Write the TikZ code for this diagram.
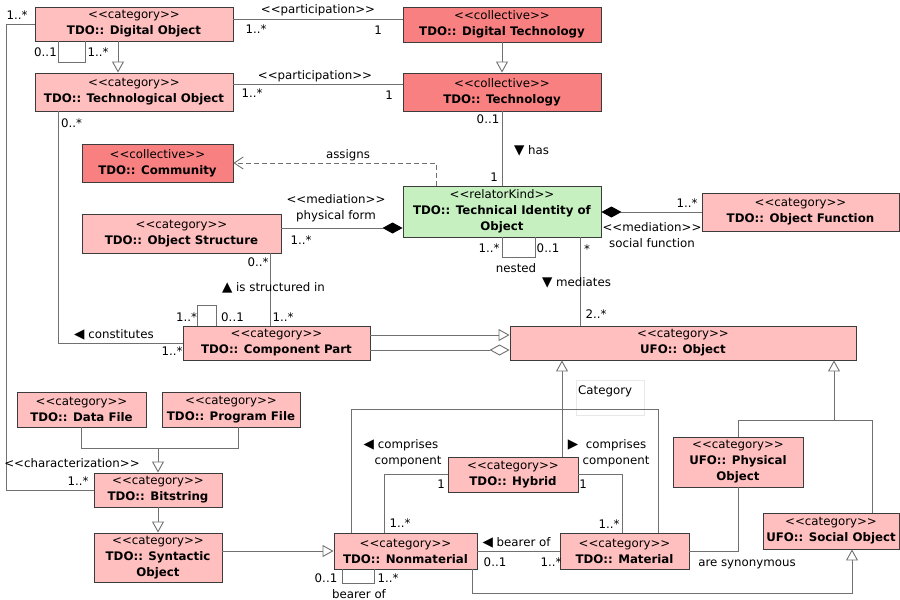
\documentclass[tikz,border=0pt]{standalone}
\usepackage{fontspec}
\newfontfamily\umlfont{DejaVu Sans}
\usetikzlibrary{arrows.meta}
\definecolor{catfill}{RGB}{255,191,191}
\definecolor{colfill}{RGB}{248,128,128}
\definecolor{relfill}{RGB}{198,240,192}
\definecolor{boxline}{RGB}{60,60,60}
\definecolor{wirec}{RGB}{112,112,112}
\definecolor{setline}{RGB}{232,232,232}
\newcommand{\stereo}[1]{<<#1>>}
% reading-direction marks of association names
\newcommand{\rd}[1]{{\fontsize{13.5}{16}\selectfont #1}}
\begin{document}
\begin{tikzpicture}[x=1pt,y=-1pt,
  font=\umlfont\fontsize{11.8}{16}\selectfont,
  box/.style={draw=boxline, line width=0.9pt, inner sep=0pt, align=center},
  cat/.style={box, fill=catfill},
  col/.style={box, fill=colfill},
  rel/.style={box, fill=relfill},
  wire/.style={draw=wirec, line width=0.9pt},
  gen/.style={wire, -{Triangle[length=11pt,width=12pt,fill=white]}},
  comp/.style={wire, {Diamond[length=20pt,width=11pt,color=black]}-},
  agg/.style={wire, -{Diamond[length=20pt,width=11pt,fill=white]}},
  dep/.style={wire, dash pattern=on 5pt off 3pt, -{Straight Barb[length=9pt,width=12pt]}},
  lbl/.style={inner sep=0pt, align=center},
]
\useasboundingbox (0,0) rectangle (900,600);

% generalization set box
\node[draw=setline, line width=0.8pt, minimum width=68pt, minimum height=35pt, inner sep=0pt] (gset) at (610,397.5) {};
\node[lbl, anchor=west] (gsettxt) at (578,391) {Category};

% classes
\node[cat, minimum width=198pt, minimum height=34pt] (dobj) at (134,24) {\stereo{category}\\\textbf{TDO:: Digital Object}};
\node[col, minimum width=198pt, minimum height=35pt] (dtech) at (502,24.5) {\stereo{collective}\\\textbf{TDO:: Digital Technology}};
\node[cat, minimum width=198pt, minimum height=38pt] (tobj) at (134,92) {\stereo{category}\\\textbf{TDO:: Technological Object}};
\node[col, minimum width=198pt, minimum height=38pt] (tech) at (502,92) {\stereo{collective}\\\textbf{TDO:: Technology}};
\node[col, minimum width=151pt, minimum height=38pt] (comm) at (157.5,163) {\stereo{collective}\\\textbf{TDO:: Community}};
\node[rel, minimum width=198pt, minimum height=51pt] (ti) at (502,211.5) {\stereo{relatorKind}\\\textbf{TDO:: Technical Identity of}\\\textbf{Object}};
\node[cat, minimum width=197pt, minimum height=38pt] (ofun) at (800.5,212) {\stereo{category}\\\textbf{TDO:: Object Function}};
\node[cat, minimum width=199pt, minimum height=39pt] (ostr) at (181.5,233.5) {\stereo{category}\\\textbf{TDO:: Object Structure}};
\node[cat, minimum width=187pt, minimum height=34pt] (cpart) at (276.5,343) {\stereo{category}\\\textbf{TDO:: Component Part}};
\node[cat, minimum width=346pt, minimum height=34pt] (ufo) at (683,343) {\stereo{category}\\\textbf{UFO:: Object}};
\node[cat, minimum width=129pt, minimum height=35pt] (dfile) at (81.5,409.5) {\stereo{category}\\\textbf{TDO:: Data File}};
\node[cat, minimum width=138pt, minimum height=35pt] (pfile) at (231,409.5) {\stereo{category}\\\textbf{TDO:: Program File}};
\node[cat, minimum width=128pt, minimum height=34pt] (bits) at (158,490) {\stereo{category}\\\textbf{TDO:: Bitstring}};
\node[cat, minimum width=128pt, minimum height=49pt] (synt) at (158,557.5) {\stereo{category}\\\textbf{TDO:: Syntactic}\\\textbf{Object}};
\node[cat, minimum width=143pt, minimum height=36pt] (nonm) at (405.5,551) {\stereo{category}\\\textbf{TDO:: Nonmaterial}};
\node[cat, minimum width=130pt, minimum height=35pt] (hyb) at (513,474.5) {\stereo{category}\\\textbf{TDO:: Hybrid}};
\node[cat, minimum width=129pt, minimum height=36pt] (mat) at (624.5,551) {\stereo{category}\\\textbf{TDO:: Material}};
\node[cat, minimum width=130pt, minimum height=50pt] (phys) at (738,462) {\stereo{category}\\\textbf{UFO:: Physical}\\\textbf{Object}};
\node[cat, minimum width=136pt, minimum height=36pt] (soc) at (831,531) {\stereo{category}\\\textbf{UFO:: Social Object}};

% participation associations
\draw[wire] ([yshift=5pt]dobj.east) -- ([yshift=5pt]dobj.east -| dtech.west);
\node[lbl] (p1n) at (318,10) {\stereo{participation}};
\node[lbl] (p1a) at (256,29) {1..*};
\node[lbl] (p1b) at (378,30) {1};
\draw[wire] ([yshift=8pt]tobj.east) -- ([yshift=8pt]tobj.east -| tech.west);
\node[lbl] (p2n) at (315,76) {\stereo{participation}};
\node[lbl] (p2a) at (252,93) {1..*};
\node[lbl] (p2b) at (389,95) {1};

% generalizations at the top
\draw[gen] ([xshift=-16pt]dobj.south) -- ([xshift=-16pt]dobj.south |- tobj.north);
\draw[gen] (dtech.south) -- (tech.north);

% digital object self association
\draw[wire] ([xshift=-76pt]dobj.south) -- ++(0,21) -| ([xshift=-49pt]dobj.south);
\node[lbl] (d1a) at (45.5,52) {0..1};
\node[lbl] (d1b) at (98,52) {1..*};

% characterization
\draw[wire] (dobj.west) -- ++(-28,0) |- (bits.west);
\node[lbl] (c1a) at (17,15) {1..*};
\node[lbl] (c1n) at (72,463) {\stereo{characterization}};
\node[lbl] (c1b) at (78,481) {1..*};

% constitutes
\draw[wire] ([xshift=-76pt]tobj.south) |- (cpart.west);
\node[lbl] (k1a) at (71.5,123) {0..*};
\node[lbl] (k1n) at (114,335) {\rd{◀} constitutes};
\node[lbl] (k1b) at (172,351) {1..*};

% has
\draw[wire] (tech.south) -- (ti.north);
\node[lbl] (h1a) at (488,119) {0..1};
\node[lbl] (h1b) at (494,177) {1};
\node[lbl] (h1n) at (531.5,151) {\rd{▼} has};

% assigns
\draw[dep] ([xshift=-66pt]ti.north) |- (comm.east);
\node[lbl] (asg) at (348,155) {assigns};

% physical form
\draw[comp] ([yshift=-16.5pt]ti.west) -- ([yshift=-16.5pt]ti.west -| ostr.east);
\node[lbl] (f1n) at (336,208.5) {\stereo{mediation}\\physical form};
\node[lbl] (f1a) at (301,240) {1..*};

% social function
\draw[comp] (ti.east |- ofun.west) -- (ofun.west);
\node[lbl] (s1a) at (687,203) {1..*};
\node[lbl] (s1n) at (652,235.5) {\stereo{mediation}\\social function};

% nested
\draw[wire] (ti.south) -- ++(0,20) -| ([xshift=33pt]ti.south);
\node[lbl] (n1a) at (489,248) {1..*};
\node[lbl] (n1b) at (548,248) {0..1};
\node[lbl] (n1n) at (516,268) {nested};

% mediates
\draw[wire] ([xshift=78pt]ti.south) -- ([xshift=78pt]ti.south |- ufo.north);
\node[lbl] (m1a) at (587,249) {*};
\node[lbl] (m1n) at (576.5,283) {\rd{▼} mediates};
\node[lbl] (m1b) at (596,314) {2..*};

% is structured in
\draw[wire] ([xshift=88.5pt]ostr.south) -- ([xshift=88.5pt]ostr.south |- cpart.north);
\node[lbl] (t1a) at (258,262) {0..*};
\node[lbl] (t1n) at (273.5,288) {\rd{▲} is structured in};
\node[lbl] (t1b) at (283,317) {1..*};

% component part self association
\draw[wire] ([xshift=-79.5pt]cpart.north) -- ++(0,-20) -| ([xshift=-60.5pt]cpart.north);
\node[lbl] (q1a) at (186.5,317) {1..*};
\node[lbl] (q1b) at (232.5,317) {0..1};

% component part to object
\draw[gen] ([yshift=8pt]cpart.east) -- ([yshift=8pt]cpart.east -| ufo.west);
\draw[agg] ([yshift=-7pt]cpart.east) -- ([yshift=-7pt]cpart.east -| ufo.west);

% files to bitstring to syntactic object
\coordinate (fmerge) at ([yshift=24pt]bits.north);
\draw[wire] (dfile.south) |- (fmerge);
\draw[wire] ([xshift=7pt]pfile.south) |- (fmerge);
\draw[gen] (fmerge) -- (bits.north);
\draw[gen] (bits.south) -- (synt.north);
\draw[gen] (nonm.west -| synt.east) -- (nonm.west);

% nonmaterial, hybrid, material to object
\coordinate (gbar) at ([xshift=49pt,yshift=47pt]hyb.north);
\draw[gen] ([xshift=49pt]hyb.north) -- ([xshift=49pt]hyb.north |- ufo.south);
\draw[wire] ([xshift=-54.5pt]nonm.north) |- (gbar) -| ([xshift=33.5pt]mat.north);

% comprises component
\draw[wire] (hyb.west) -| ([xshift=-21.5pt]nonm.north);
\node[lbl] (r1n) at (408,453.5) {\llap{\rd{◀} }comprises\\component};
\node[lbl] (r1a) at (441,484) {1};
\node[lbl] (r1b) at (400,523) {1..*};
\draw[wire] (hyb.east) -| ([xshift=-2.5pt]mat.north);
\node[lbl] (r2n) at (616,453.5) {\llap{\rd{▶}\ \ }comprises\\component};
\node[lbl] (r2a) at (583,484) {1};
\node[lbl] (r2b) at (609,524) {1..*};

% bearer of
\draw[wire] (nonm.east) -- (mat.west);
\node[lbl] (b1n) at (516.5,543) {\rd{◀} bearer of};
\node[lbl] (b1a) at (495,562) {0..1};
\node[lbl] (b1b) at (551,562) {1..*};
\draw[wire] ([xshift=-63.5pt]nonm.south) -- ++(0,14) -| ([xshift=-31.5pt]nonm.south);
\node[lbl] (b2a) at (326,578) {0..1};
\node[lbl] (b2b) at (388,578) {1..*};
\node[lbl] (b2n) at (359,594) {bearer of};

% nonmaterial to social object
\draw[gen] ([xshift=66.5pt]nonm.south) -- ++(0,24) -| ([xshift=21pt]soc.south);

% are synonymous
\draw[wire] (mat.east) -| (phys.south);
\node[lbl] (syn) at (747,564) {are synonymous};

% physical and social object to object
\coordinate (pmerge) at ([xshift=96pt,yshift=16pt]phys.north);
\draw[wire] (phys.north) |- (pmerge);
\draw[wire] ([xshift=41pt]soc.north) |- (pmerge);
\draw[gen] (pmerge) -- (pmerge |- ufo.south);
\end{tikzpicture}
\end{document}
